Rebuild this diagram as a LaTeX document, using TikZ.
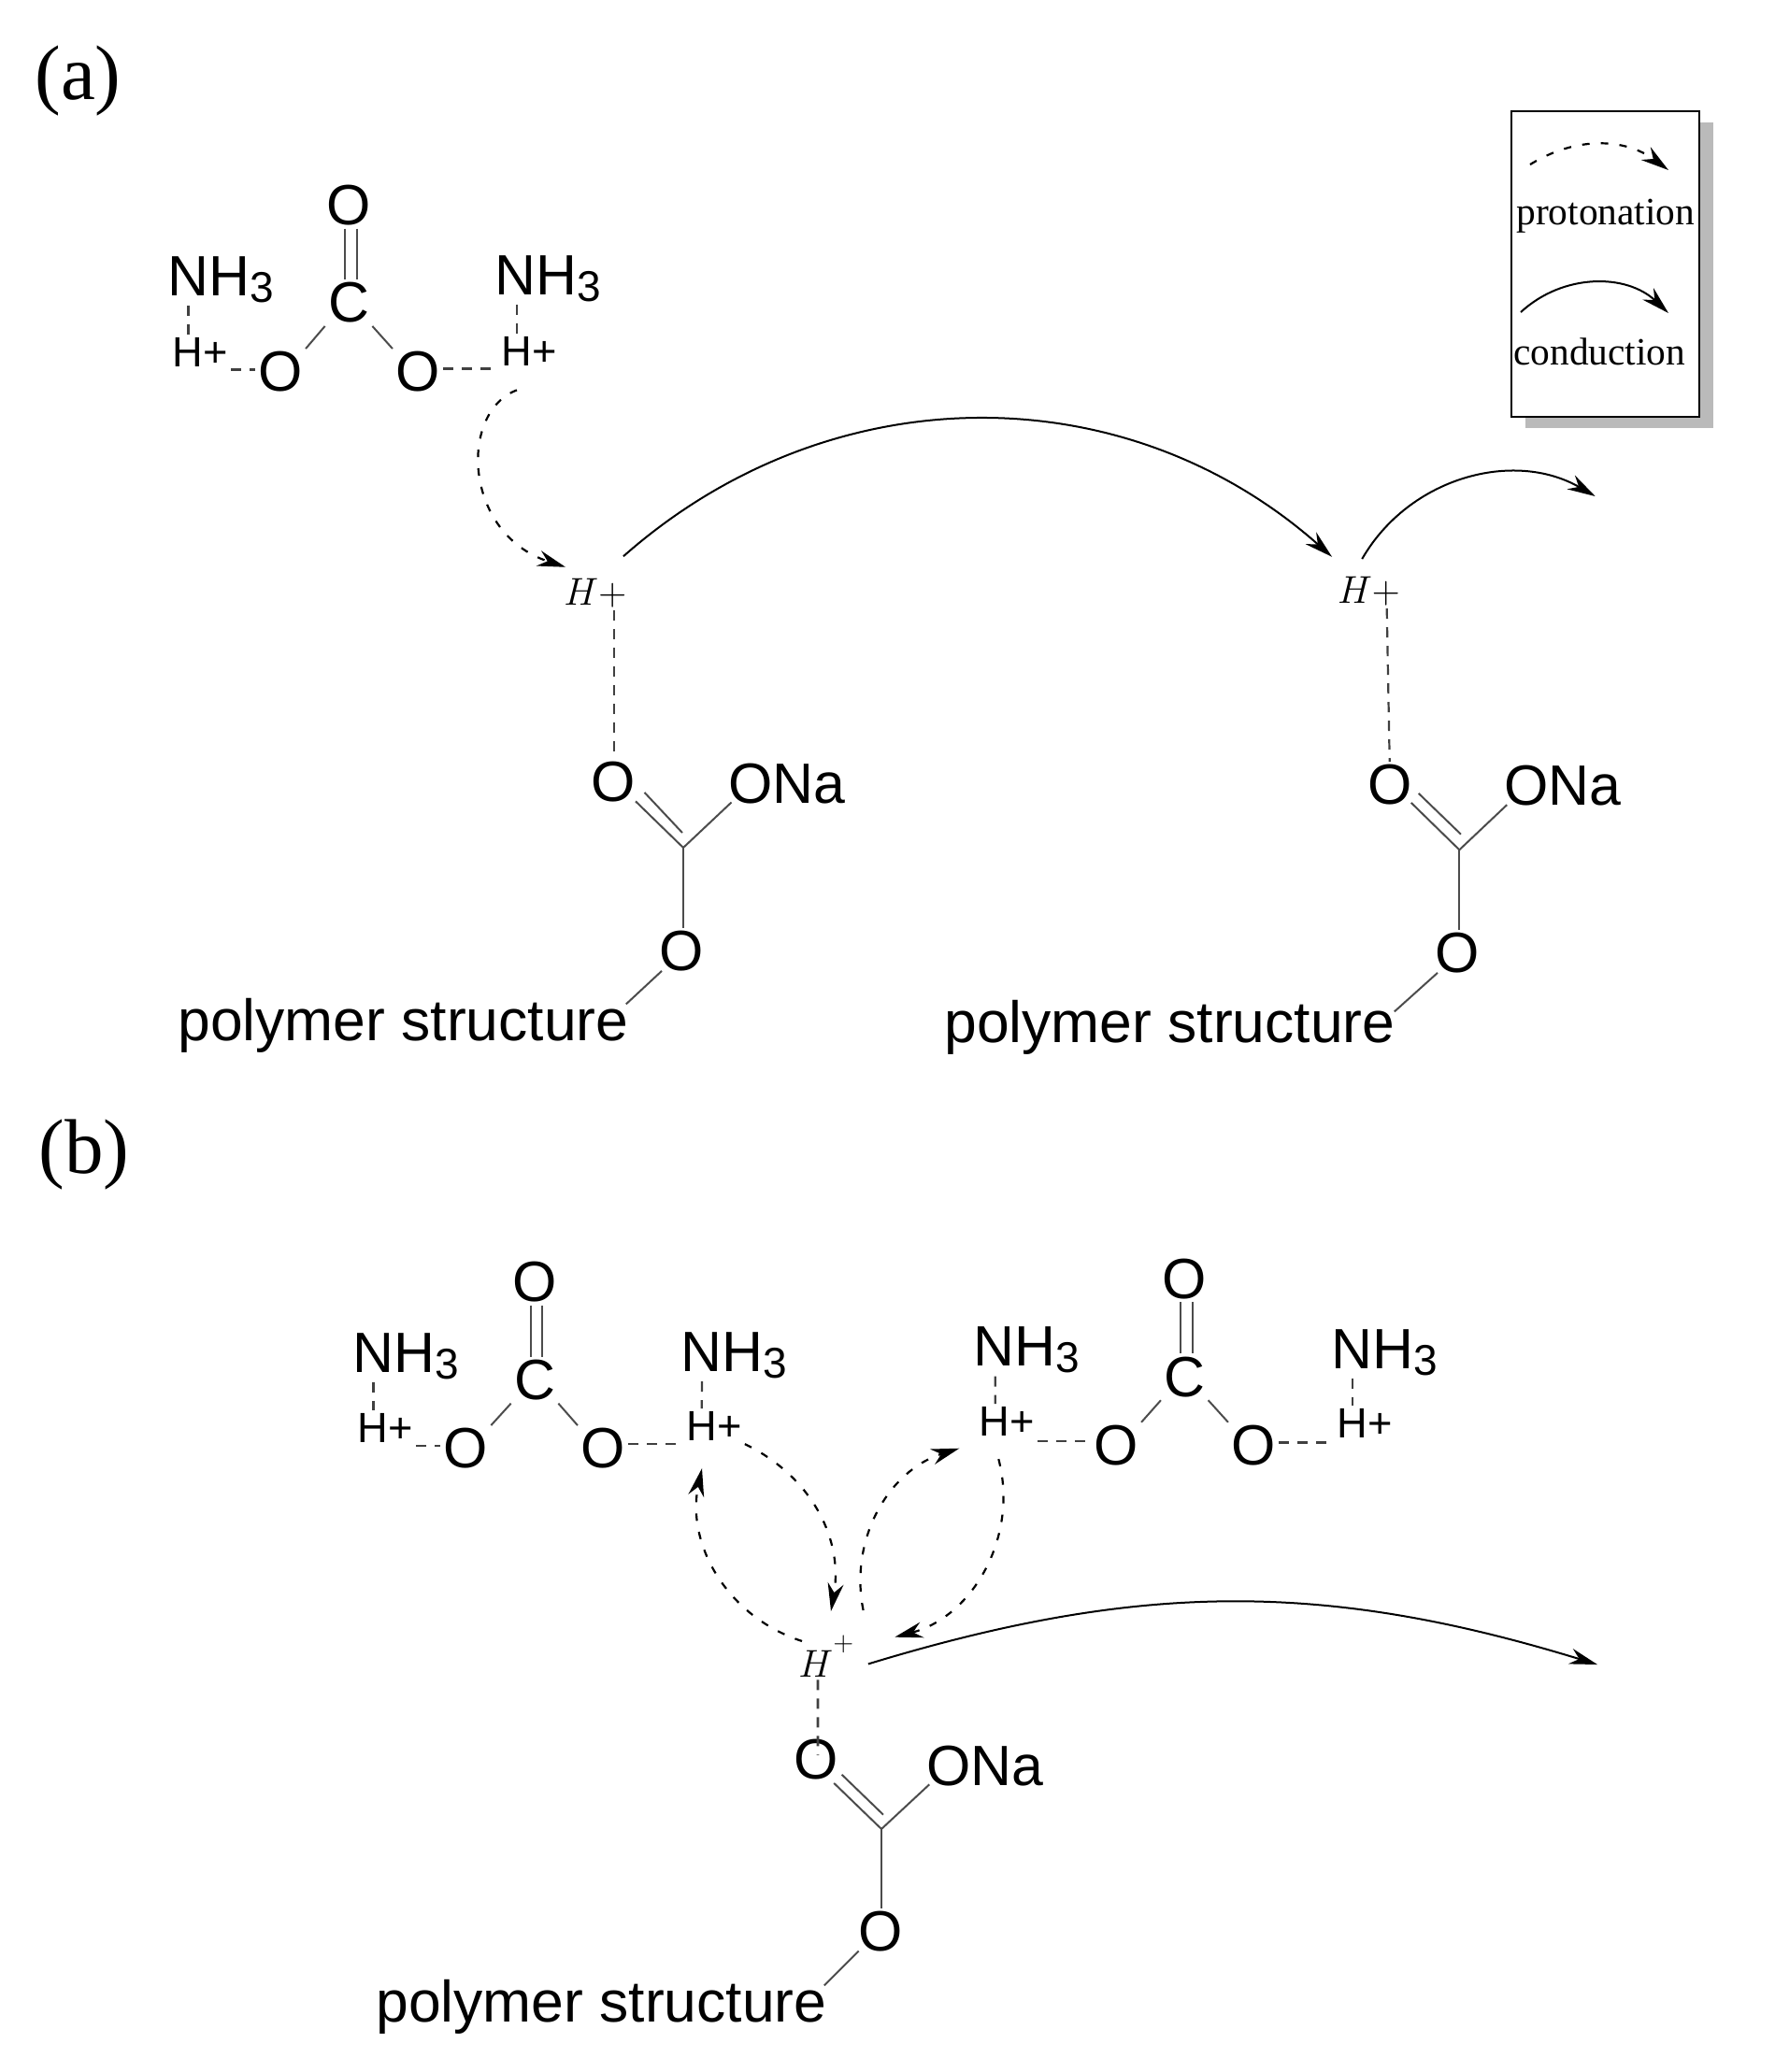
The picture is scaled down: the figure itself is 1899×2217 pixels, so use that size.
\documentclass[tikz,border=0pt]{standalone}
\usepackage{fontspec}
\usepackage{xcolor}
\setmainfont{Liberation Sans}
\newfontfamily\legendfont{Liberation Serif}
\usetikzlibrary{arrows.meta,shadows}
\newcommand{\subthree}{{\fontsize{23}{23}\selectfont\raisebox{-3.5pt}{3}}}
\tikzset{
    atom/.style={font=\fontsize{30.4}{32}\selectfont, inner sep=1.5pt},
    amine/.style={atom, anchor=base west},
    proton/.style={font=\fontsize{22.6}{24}\selectfont, inner sep=1.5pt, anchor=base west},
    mproton/.style={font=\fontsize{21.6}{24}\selectfont, inner sep=1.5pt, anchor=base west},
    chain/.style={font=\fontsize{31.2}{34}\selectfont, inner sep=1.5pt, anchor=base west},
    legend/.style={font=\legendfont\fontsize{20.7}{24}\selectfont, inner sep=0pt, anchor=base west},
    panel/.style={font=\legendfont\fontsize{41.5}{44}\selectfont, inner sep=0pt, anchor=base west},
    bond/.style={line width=1pt, black!70},
    hbond/.style={line width=1.1pt, black!75, dash pattern=on 5.5pt off 4.5pt},
    proto/.style={line width=1.1pt, dash pattern=on 4pt off 6pt, -{Stealth[length=15pt,width=8.5pt]}},
    cond/.style={line width=1pt, -{Stealth[length=15pt,width=8.5pt]}}
}
\begin{document}
\begin{tikzpicture}[x=0.5pt,y=-0.5pt]
    \useasboundingbox (0,0) rectangle (1899,2217);
    % panel letters
    \node[panel] (pa) at (37,106) {(a)};
    \node[panel] (pb) at (41,1255) {(b)};
    % legend
    \node[draw, line width=1.4pt, fill=white, minimum width=100.5pt, minimum height=163.5pt,
        drop shadow={shadow xshift=7.5pt, shadow yshift=-6pt, fill=black!27, opacity=1}] (box) at (1717.5,282.5) {};
    \node[legend] (lp) at (1622,240) {protonation};
    \node[legend] (lc) at (1619,390) {conduction};
    \coordinate (lp1) at (1637,176);
    \coordinate (lp2) at (1785,182);
    \coordinate (lc1) at (1627,334);
    \coordinate (lc2) at (1785,335);
    \draw[proto] (lp1) to[bend left=34] (lp2);
    \draw[cond] (lc1) to[bend left=43] (lc2);
    % panel (a), ammonium carbonate
    \node[atom] (o1t) at (373,219.6) {O};
    \node[atom] (c1) at (373,324) {C};
    \node[atom] (o1l) at (300,398) {O};
    \node[atom] (o1r) at (447,398) {O};
    \node[amine] (n1l) at (176.5,316) {NH\subthree};
    \node[amine] (n1r) at (526.5,315) {NH\subthree};
    \node[proton] (h1l) at (181.3,392) {H+};
    \node[proton] (h1r) at (533,391) {H+};
    \draw[bond, line width=1.4pt] ([xshift=-2pt]o1t.south) -- ([xshift=-2pt]c1.north);
    \draw[bond] ([xshift=4.5pt]o1t.south) -- ([xshift=4.5pt]c1.north);
    \draw[bond] (c1.south west) -- (o1l.north east);
    \draw[bond] (c1.south east) -- (o1r.north west);
    \draw[hbond] ([xshift=12.5pt]n1l.south west) -- ([xshift=10.1pt]h1l.north west);
    \draw[hbond] ([xshift=13.25pt]n1r.south west) -- ([xshift=10pt]h1r.north west);
    \draw[hbond] (h1l.south east) -- (h1l.south east -| o1l.west);
    \draw[hbond, line width=1.5pt] (o1r.east |- h1r.south west) -- (h1r.south west);
    % panel (a), first polymer site
    \node[mproton] (hpa) at (600,647) {$H{+}$};
    \node[atom] (oa1) at (656,837) {O};
    \node[amine] (ona1) at (776,859) {ONa};
    \coordinate (ca1) at (731,907);
    \node[atom] (oe1) at (729,1018) {O};
    \node[chain] (ps1) at (187,1113) {polymer structure};
    \draw[hbond] ([xshift=28.5pt]hpa.south west) -- ([xshift=0.5pt]oa1.north);
    \draw[bond] ([shift={(-1.5pt,2.25pt)}]oa1.south east) -- (ca1);
    \draw[bond] ([shift={(3.25pt,7pt)}]oa1.south east) -- ([shift={(-0.5pt,8pt)}]ca1);
    \draw[bond] (ca1) -- ([shift={(3.25pt,2.25pt)}]ona1.south west);
    \draw[bond] (ca1) -- (oe1.north -| ca1);
    \draw[bond] ([shift={(3pt,2pt)}]oe1.south west) -- ([shift={(-3pt,-5pt)}]ps1.north east);
    % panel (a), second polymer site
    \node[mproton] (hpb) at (1427.7,645) {$H{+}$};
    \node[atom] (oa2) at (1486.7,840) {O};
    \node[amine] (ona2) at (1605.7,861.7) {ONa};
    \coordinate (ca2) at (1561.3,909.3);
    \node[atom] (oe2) at (1559,1020) {O};
    \node[chain] (ps2) at (1007,1115) {polymer structure};
    \draw[hbond] ([xshift=28pt]hpb.south west) -- (oa2.north);
    \draw[bond] ([shift={(-2pt,3pt)}]oa2.south east) -- (ca2);
    \draw[bond] ([shift={(2pt,8pt)}]oa2.south east) -- ([shift={(0.85pt,8.3pt)}]ca2);
    \draw[bond] (ca2) -- ([shift={(3.25pt,2.25pt)}]ona2.south west);
    \draw[bond] (ca2) -- (oe2.north -| ca2);
    \draw[bond] ([shift={(3pt,2pt)}]oe2.south west) -- ([shift={(-2pt,-8pt)}]ps2.north east);
    % panel (a), arrows
    \coordinate (enda) at (1706.7,531);
    \draw[proto] ([shift={(10pt,-11.5pt)}]h1r.south west) .. controls +(-62,23) and +(-110,-36) .. ([shift={(2.5pt,4.25pt)}]hpa.north west);
    \draw[cond] ([shift={(-3.3pt,10pt)}]hpa.north east) to[bend left=41.5] ([shift={(-1.35pt,8.75pt)}]hpb.north west);
    \draw[cond] ([shift={(-22pt,7.6pt)}]hpb.north east) to[bend left=45] (enda);
    % panel (b), left ammonium carbonate
    \node[atom] (o2t) at (572,1371.7) {O};
    \node[atom] (c2) at (572,1476.7) {C};
    \node[atom] (o2l) at (498.3,1550) {O};
    \node[atom] (o2r) at (645,1550) {O};
    \node[amine] (n2l) at (374.5,1468) {NH\subthree};
    \node[amine] (n2r) at (725.5,1467.3) {NH\subthree};
    \node[proton] (h2l) at (379.3,1543.3) {H+};
    \node[proton] (h2r) at (731,1541.7) {H+};
    \draw[bond, line width=1.4pt] ([xshift=-2pt]o2t.south) -- ([xshift=-2pt]c2.north);
    \draw[bond] ([xshift=4pt]o2t.south) -- ([xshift=4pt]c2.north);
    \draw[bond] (c2.south west) -- (o2l.north east);
    \draw[bond] (c2.south east) -- (o2r.north west);
    \draw[hbond] ([xshift=12.5pt]n2l.south west) -- ([xshift=10.1pt]h2l.north west);
    \draw[hbond] ([xshift=12.75pt]n2r.south west) -- ([xshift=9.85pt]h2r.north west);
    \draw[hbond] (h2l.south east) -- (h2l.south east -| o2l.west);
    \draw[hbond] (o2r.east |- h2r.south west) -- (h2r.south west);
    % panel (b), right ammonium carbonate
    \node[atom] (o3t) at (1267.3,1368.3) {O};
    \node[atom] (c3) at (1267.3,1473.3) {C};
    \node[atom] (o3l) at (1194,1546.7) {O};
    \node[atom] (o3r) at (1341,1546.7) {O};
    \node[amine] (n3l) at (1038.5,1461.7) {NH\subthree};
    \node[amine] (n3r) at (1421.5,1464) {NH\subthree};
    \node[proton] (h3l) at (1044.3,1536.7) {H+};
    \node[proton] (h3r) at (1427,1538.3) {H+};
    \draw[bond] ([xshift=-2pt]o3t.south) -- ([xshift=-2pt]c3.north);
    \draw[bond] ([xshift=4.2pt]o3t.south) -- ([xshift=4.2pt]c3.north);
    \draw[bond] (c3.south west) -- (o3l.north east);
    \draw[bond] (c3.south east) -- (o3r.north west);
    \draw[hbond] ([xshift=13.1pt]n3l.south west) -- ([xshift=10.2pt]h3l.north west);
    \draw[hbond] ([xshift=12.6pt]n3r.south west) -- ([xshift=9.85pt]h3r.north west);
    \draw[hbond] ([yshift=-1pt]h3l.south east) -- ([yshift=-1pt]h3l.south east -| o3l.west);
    \draw[hbond, line width=1.5pt] ([yshift=-1pt]o3r.east |- h3r.south west) -- ([yshift=-1pt]h3r.south west);
    % panel (b), polymer site
    \node[mproton] (hb) at (851,1794) {$H^{\raisebox{6pt}{$\scriptstyle+$}}$};
    \node[atom] (ob) at (872.7,1883) {O};
    \node[amine] (onb) at (988,1910) {ONa};
    \coordinate (cb) at (943,1957);
    \node[atom] (oeb) at (941.7,2066.7) {O};
    \node[chain] (psb) at (399,2163) {polymer structure};
    \draw[hbond, line width=1.4pt] ([xshift=12pt]hb.south west) -- ([shift={(1.15pt,2.5pt)}]ob.center);
    \draw[bond] ([xshift=-3.75pt]ob.south east) -- (cb);
    \draw[bond] ([shift={(0.4pt,4.6pt)}]ob.south east) -- ([shift={(1pt,7.65pt)}]cb);
    \draw[bond] (cb) -- ([shift={(3.15pt,2.35pt)}]onb.south west);
    \draw[bond, line width=1.4pt] (cb) -- (oeb.north -| cb);
    \draw[bond] ([shift={(2pt,2pt)}]oeb.south west) -- ([shift={(-3pt,-5pt)}]psb.north east);
    % panel (b), arrows
    \coordinate (endb) at (1709,1781);
    \draw[proto] ([shift={(3.5pt,-4.5pt)}]hb.north west) to[bend left=42] ([shift={(10pt,-13pt)}]h2r.south west);
    \draw[proto] (h2r.south east) to[bend left=37] ([shift={(19pt,11.5pt)}]hb.north west);
    \draw[proto] ([shift={(3pt,12pt)}]hb.north east) to[bend left=42] ([shift={(-9pt,-4.8pt)}]h3l.south west);
    \draw[proto] ([shift={(12pt,-10.5pt)}]h3l.south west) to[bend left=45] ([shift={(19.85pt,-2.35pt)}]hb.north east);
    \draw[cond] ([shift={(5.65pt,8.5pt)}]hb.south east) to[bend left=17] (endb);
\end{tikzpicture}
\end{document}
